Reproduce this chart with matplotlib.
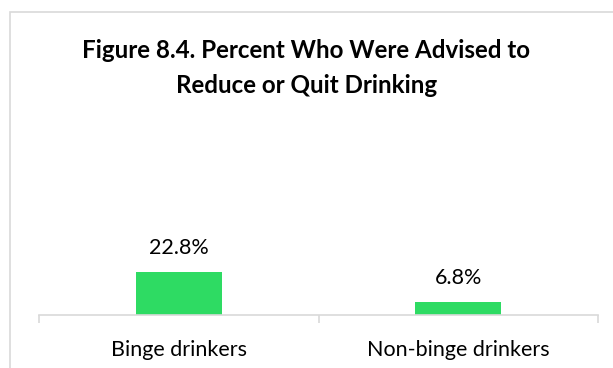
import matplotlib
matplotlib.use("Agg")
import matplotlib.pyplot as plt
from matplotlib.patches import Rectangle

categories = ["Binge drinkers", "Non-binge drinkers"]
percents = [22.8, 6.8]
title = "Figure 8.4. Percent Who Were Advised to\nReduce or Quit Drinking"

W, H = 613, 368
fig = plt.figure(figsize=(W / 100, H / 100), dpi=100)
fig.patch.set_facecolor("white")

# outer chart frame (extends past right/bottom edges)
fig.add_artist(Rectangle((10 / W, -0.05), 1.2, (H - 12) / H + 0.05,
                         transform=fig.transFigure, fill=False,
                         edgecolor="#d9d9d9", linewidth=1.2))

left, right, base, top = 39, 598, 315, 100
ax = fig.add_axes([left / W, (H - base) / H, (right - left) / W, (base - top) / H])
px_per_unit = 1.886
ax.set_ylim(0, (base - top) / px_per_unit)
ax.set_xlim(-0.5, 1.5)

x = range(len(categories))
ax.bar(x, percents, width=0.308, color="#2edb63", zorder=2)
for xi, v in zip(x, percents):
    ax.annotate(f"{v}%", (xi, v), xytext=(0, 10), textcoords="offset points",
                ha="center", va="bottom", fontsize=15.5, family="Lato", color="#000000")

for s in ["top", "right", "left"]:
    ax.spines[s].set_visible(False)
ax.spines["bottom"].set_color("#d9d9d9")
ax.spines["bottom"].set_linewidth(1.2)
ax.set_yticks([])
ax.set_xticks([-0.5, 0.5, 1.5])
ax.set_xticklabels([])
ax.set_xticks(list(x), minor=True)
ax.set_xticklabels(categories, minor=True, fontsize=15.5, family="Lato")
ax.tick_params(axis="x", which="major", length=6, color="#d9d9d9", width=1.2)
ax.tick_params(axis="x", which="minor", length=0, pad=18)

fig.text(0.5, 1 - 68 / H, title, ha="center", va="center", fontsize=17.4,
         fontweight="bold", family="Lato", linespacing=1.6)

fig.savefig("out.png", dpi=100)
